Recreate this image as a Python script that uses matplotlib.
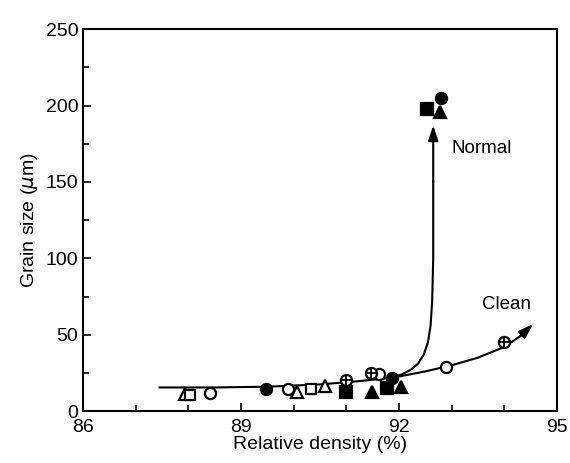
import numpy as np
import matplotlib.pyplot as plt

plt.rcParams['font.family'] = ['Liberation Sans', 'DejaVu Sans']

# measured points: relative density (%), grain size (um)
open_circle_x = [88.4, 89.9, 91.62, 92.9]
open_circle_y = [12, 14.5, 24, 29]
open_tri_x = [87.93, 90.07, 90.6]
open_tri_y = [11, 12.5, 16.5]
open_sq_x = [88.03, 90.32]
open_sq_y = [10.5, 14.5]
filled_circle_x = [89.48, 91.87, 92.79]
filled_circle_y = [14.5, 22, 205]
filled_sq_x = [90.99, 91.78, 92.54]
filled_sq_y = [12.5, 15, 198]
filled_tri_x = [91.49, 92.03, 92.77]
filled_tri_y = [12.5, 15.5, 196]
cross_circle_x = [90.99, 91.47, 94.0]
cross_circle_y = [20.5, 25, 45]

# trend curves
normal_x = [91.85, 92.05, 92.22, 92.36, 92.47, 92.55, 92.6, 92.63, 92.65, 92.65, 92.65]
normal_y = [22, 24, 27, 31, 37, 45, 56, 72, 100, 150, 187]
clean_x = [87.45, 88.5, 89.5, 90.5, 91.2, 91.9, 92.5, 93.0, 93.5, 94.0, 94.3, 94.55]
clean_y = [15.5, 15.5, 16, 17.5, 19.5, 22, 26, 30, 35, 42, 49, 57]

fig = plt.figure(figsize=(5.7, 4.63), dpi=100)
ax = fig.add_axes([0.146, 0.112, 0.831, 0.825])

def curve(xs, ys):
    ax.plot(xs[:-1], ys[:-1], color='black', lw=1.5, zorder=2)
    ax.annotate('', xy=(xs[-1], ys[-1]), xytext=(xs[-2], ys[-2]),
                arrowprops=dict(arrowstyle='-|>,head_length=0.9,head_width=0.3',
                                color='black', lw=1.5, shrinkA=0, shrinkB=0),
                zorder=2)

curve(normal_x, normal_y)
curve(clean_x, clean_y)

ms = 8
kw = dict(linestyle='none', markeredgecolor='black', markeredgewidth=1.6, zorder=3)
ax.plot(open_circle_x, open_circle_y, 'o', ms=ms, markerfacecolor='white', **kw)
ax.plot(open_tri_x, open_tri_y, '^', ms=ms + 1, markerfacecolor='white', **kw)
ax.plot(open_sq_x, open_sq_y, 's', ms=ms - 0.5, markerfacecolor='white', **kw)
ax.plot(filled_circle_x, filled_circle_y, 'o', ms=ms, markerfacecolor='black', **kw)
ax.plot(filled_sq_x, filled_sq_y, 's', ms=ms, markerfacecolor='black', **kw)
ax.plot(filled_tri_x, filled_tri_y, '^', ms=ms + 1, markerfacecolor='black', **kw)
ax.plot(cross_circle_x, cross_circle_y, 'o', ms=ms, markerfacecolor='white', **kw)
ax.plot(cross_circle_x, cross_circle_y, '+', ms=ms - 1.5, color='black',
        markeredgewidth=1.3, linestyle='none', zorder=4)

ax.text(93.0, 172, 'Normal', fontsize=13.5, va='center', ha='left')
ax.text(94.05, 70, 'Clean', fontsize=13.5, va='center', ha='center')

ax.set_xlim(86, 95)
ax.set_ylim(0, 250)
ax.set_xticks([86, 89, 92, 95])
ax.set_xticks(np.arange(86, 96, 1), minor=True)
ax.set_yticks(np.arange(0, 251, 50))
ax.set_yticks(np.arange(0, 251, 25), minor=True)
ax.tick_params(direction='in', which='both', labelsize=14, width=1.2)
ax.tick_params(which='major', length=6)
ax.tick_params(which='minor', length=4)
ax.tick_params(axis='x', pad=6)
for s in ax.spines.values():
    s.set_linewidth(1.5)

ax.set_xlabel('Relative density (%)', fontsize=14, labelpad=0)
ax.set_ylabel(r'Grain size ($\mu$m)', fontsize=14, labelpad=4)

fig.savefig('out.png', dpi=100)
